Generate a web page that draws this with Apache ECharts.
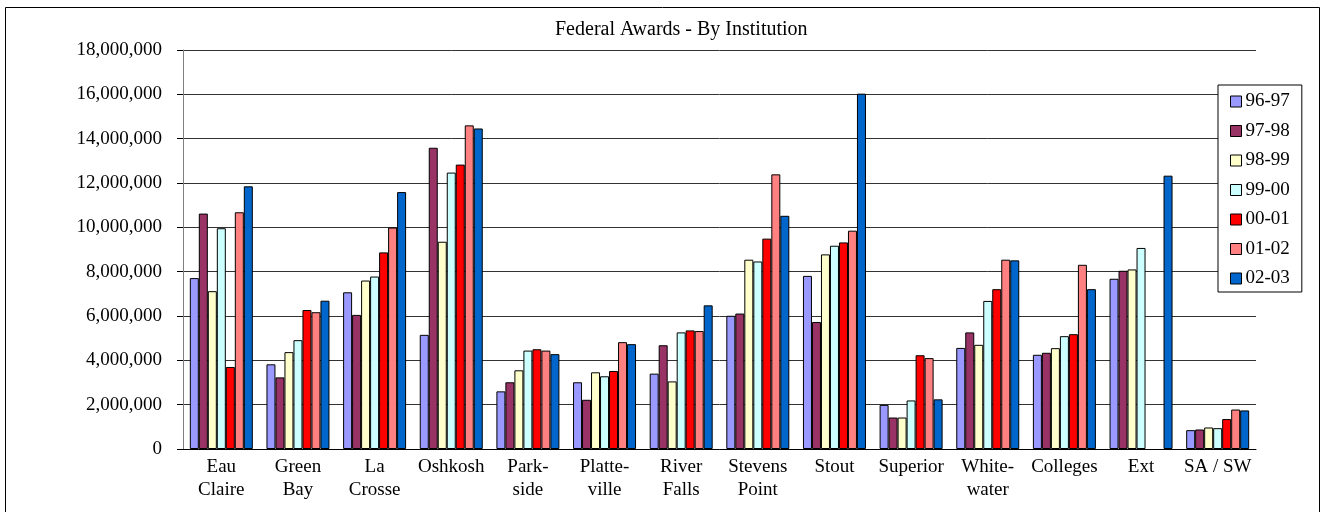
<!DOCTYPE html>
<html>
<head>
<meta charset="utf-8">
<script src="https://cdn.jsdelivr.net/npm/echarts@6/dist/echarts.min.js"></script>
<style>
html,body{margin:0;padding:0;background:#fff;}
#chart{width:1323px;height:512px;}
</style>
</head>
<body>
<div id="chart"></div>
<script>
const categories = ["Eau\nClaire","Green\nBay","La\nCrosse","Oshkosh","Park-\nside","Platte-\nville","River\nFalls","Stevens\nPoint","Stout","Superior","White-\nwater","Colleges","Ext","SA / SW"];
const seriesNames = ["96-97","97-98","98-99","99-00","00-01","01-02","02-03"];
const seriesColors = ["#9999FF","#993366","#FFFFCC","#CCFFFF","#FF0000","#FF8080","#0066CC"];
const yTicks = [0,2000000,4000000,6000000,8000000,10000000,12000000,14000000,16000000,18000000];

const v9697 = [7710000,3820000,7070000,5150000,2600000,3010000,3400000,6010000,7810000,1990000,4560000,4250000,7680000,850000];
const v9798 = [10620000,3230000,6050000,13590000,3010000,2220000,4680000,6110000,5730000,1420000,5260000,4340000,8040000,880000];
const v9899 = [7120000,4370000,7600000,9350000,3550000,3460000,3050000,8540000,8780000,1420000,4700000,4550000,8100000,970000];
const v9900 = [9960000,4910000,7780000,12470000,4440000,3280000,5260000,8460000,9170000,2190000,6680000,5090000,9070000,940000];
const v0001 = [3700000,6270000,8870000,12830000,4500000,3520000,5350000,9490000,9320000,4230000,7210000,5180000,null,1350000];
const v0102 = [10680000,6170000,9990000,14600000,4440000,4820000,5320000,12390000,9850000,4100000,8540000,8310000,null,1780000];
const v0203 = [11850000,6690000,11590000,14460000,4280000,4730000,6480000,10520000,16030000,2240000,8510000,7210000,12330000,1740000];

const allValues = [v9697,v9798,v9899,v9900,v0001,v0102,v0203];
const FONT = "'Liberation Serif','Times New Roman',serif";

const chart = echarts.init(document.getElementById('chart'), null, {renderer:'canvas'});
chart.setOption({
  animation:false,
  backgroundColor:'#fff',
  textStyle:{fontFamily:FONT,color:'#000'},
  graphic:[{type:'rect',shape:{x:5.5,y:7.5,width:1314,height:530},style:{fill:'none',stroke:'#000',lineWidth:1},silent:true}],
  title:{text:'Federal Awards - By Institution',left:555,top:20,padding:0,
    textStyle:{fontFamily:FONT,fontSize:20,fontWeight:'normal',color:'#000'}},
  legend:{orient:'vertical',left:1218,top:85,width:84,
    padding:[7,12,4,12],itemGap:10.5,itemWidth:11,itemHeight:11,
    borderColor:'#000',borderWidth:1,backgroundColor:'#fff',
    icon:'rect',
    itemStyle:{borderColor:'#000',borderWidth:1},
    textStyle:{fontFamily:FONT,fontSize:19,color:'#000',padding:[0,0,0,-1]},
    data:seriesNames},
  grid:{left:183,right:67,top:50,bottom:63,containLabel:false},
  xAxis:{type:'category',data:categories,
    axisLine:{lineStyle:{color:'#000',width:1}},
    axisTick:{show:false},
    axisLabel:{fontFamily:FONT,fontSize:19,color:'#000',lineHeight:23,margin:7,interval:0},
    splitLine:{show:false}},
  yAxis:{type:'value',min:0,max:18000000,interval:2000000,
    axisLine:{show:true,lineStyle:{color:'#808080',width:1}},
    axisTick:{show:true,length:6,lineStyle:{color:'#000'}},
    axisLabel:{fontFamily:FONT,fontSize:19,color:'#000',margin:21,
      formatter:function(v){return yTicks.indexOf(v)>=0 ? v.toLocaleString('en-US') : '';}},
    splitLine:{show:true,lineStyle:{color:'#333',width:1}}},
  series: seriesNames.map(function(name,i){
    return {name:name,type:'bar',data:allValues[i],barWidth:9,barGap:'0%',
      itemStyle:{color:seriesColors[i],borderColor:'#000',borderWidth:1}};
  })
});
</script>
</body>
</html>
